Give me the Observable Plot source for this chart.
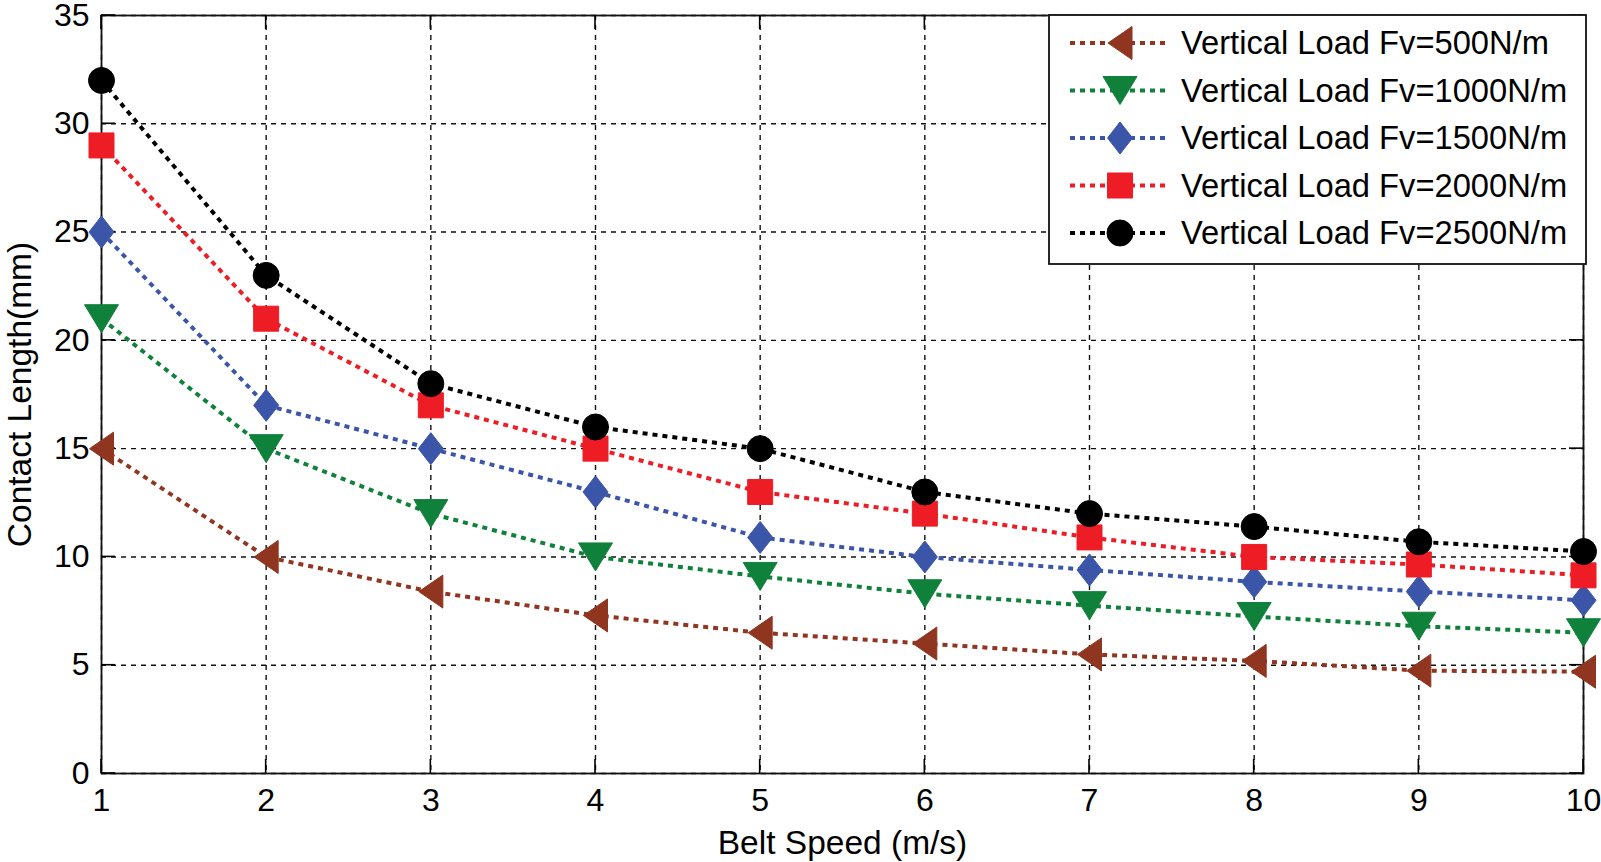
<!DOCTYPE html>
<html>
<head>
<meta charset="utf-8">
<script src="https://cdn.jsdelivr.net/npm/d3@7"></script>
<script src="https://cdn.jsdelivr.net/npm/@observablehq/plot@0.6"></script>
<style>
  html, body { margin: 0; padding: 0; background: #fff; }
  #chart svg { display: block; }
</style>
</head>
<body>
<div id="chart"></div>
<script>
// ---------- data ----------
const beltSpeed = [1, 2, 3, 4, 5, 6, 7, 8, 9, 10];
const seriesNames = [
  "Vertical Load Fv=500N/m",
  "Vertical Load Fv=1000N/m",
  "Vertical Load Fv=1500N/m",
  "Vertical Load Fv=2000N/m",
  "Vertical Load Fv=2500N/m"
];
const load500  = [15, 10, 8.4, 7.3, 6.5, 6.0, 5.5, 5.2, 4.75, 4.7];
const load1000 = [21, 15, 12, 10, 9.1, 8.3, 7.75, 7.25, 6.8, 6.5];
const load1500 = [25, 17, 15, 13, 10.9, 10, 9.4, 8.85, 8.4, 8.0];
const load2000 = [29, 21, 17, 15, 13, 12, 10.9, 10, 9.65, 9.15];
const load2500 = [32, 23, 18, 16, 15, 13, 12, 11.4, 10.7, 10.25];
const seriesValues = [load500, load1000, load1500, load2000, load2500];
const seriesColors = ["#8f3520", "#0f813a", "#3b55a8", "#ee1c25", "#000000"];
const xTicks = [1, 2, 3, 4, 5, 6, 7, 8, 9, 10];
const yTicks = [0, 5, 10, 15, 20, 25, 30, 35];
const xLabel = "Belt Speed (m/s)";
const yLabel = "Contact Length(mm)";

// ---------- marker symbols (MATLAB-like) ----------
function polySymbol(pts) {
  return {
    draw(ctx, size) {
      const k = Math.sqrt(size / Math.PI) / 13;
      ctx.moveTo(pts[0][0] * k, pts[0][1] * k);
      for (let i = 1; i < pts.length; i++) ctx.lineTo(pts[i][0] * k, pts[i][1] * k);
      ctx.closePath();
    }
  };
}
const symTriLeft = polySymbol([[-12, 0], [12, -16.5], [12, 16.5]]);
const symTriDown = polySymbol([[-17, -14], [17, -14], [0, 14]]);
const symDiamond = polySymbol([[0, -16], [12.5, 0], [0, 16], [-12.5, 0]]);
const symSquare  = polySymbol([[-12.5, -12.5], [12.5, -12.5], [12.5, 12.5], [-12.5, 12.5]]);
const symCircle  = {
  draw(ctx, size) {
    const r = Math.sqrt(size / Math.PI);
    ctx.moveTo(r, 0);
    ctx.arc(0, 0, r, 0, 2 * Math.PI);
    ctx.closePath();
  }
};
const seriesSymbols = [symTriLeft, symTriDown, symDiamond, symSquare, symCircle];

// ---------- table ----------
const rows = seriesNames.flatMap((name, s) =>
  beltSpeed.map((v, i) => ({ series: name, s, speed: v, length: seriesValues[s][i] }))
);

const FONT = "'Liberation Sans', Arial, Helvetica, sans-serif";
const FS = 32;
const FS_LABEL = 33.5;
const FS_LEGEND = 32.7;
const MARKER_R = 13;
const LINE_W = 4;
const LINE_DASH = "5,5";

// ---------- inward ticks on all four sides ----------
function tickMarks(index, scales, values, dims) {
  const x = scales.x, y = scales.y;
  const top = dims.marginTop, bottom = dims.height - dims.marginBottom;
  const left = dims.marginLeft, right = dims.width - dims.marginRight;
  const L = 14;
  const g = d3.create("svg:g").attr("stroke", "#000").attr("stroke-width", 1.6).attr("fill", "none");
  for (const t of xTicks) {
    const px = x(t);
    g.append("line").attr("x1", px).attr("x2", px).attr("y1", bottom).attr("y2", bottom - L);
    g.append("line").attr("x1", px).attr("x2", px).attr("y1", top).attr("y2", top + L);
  }
  for (const t of yTicks) {
    const py = y(t);
    g.append("line").attr("y1", py).attr("y2", py).attr("x1", left).attr("x2", left + L);
    g.append("line").attr("y1", py).attr("y2", py).attr("x1", right).attr("x2", right - L);
  }
  return g.node();
}

// ---------- legend (top-right, inside plot) ----------
function legendMark(index, scales, values, dims) {
  const right = dims.width - dims.marginRight + 3;
  const top = dims.marginTop;
  const W = 537, H = 249;
  const left = right - W;
  const g = d3.create("svg:g");
  g.append("rect")
    .attr("x", left).attr("y", top).attr("width", W).attr("height", H)
    .attr("fill", "#fff").attr("stroke", "#111").attr("stroke-width", 1.8);
  seriesNames.forEach((name, s) => {
    const cy = top + 28 + s * 47.5;
    const col = seriesColors[s];
    g.append("line")
      .attr("x1", left + 21).attr("x2", left + 117).attr("y1", cy).attr("y2", cy)
      .attr("stroke", col).attr("stroke-width", LINE_W).attr("stroke-dasharray", LINE_DASH);
    const p = d3.path();
    seriesSymbols[s].draw(p, MARKER_R * MARKER_R * Math.PI);
    g.append("path")
      .attr("d", p.toString())
      .attr("transform", `translate(${left + 71},${cy})`)
      .attr("fill", col).attr("stroke", col).attr("stroke-width", 1);
    g.append("text")
      .attr("x", left + 132).attr("y", cy).attr("dy", "0.35em")
      .attr("text-anchor", "start")
      .attr("font-family", FONT).attr("font-size", FS_LEGEND).attr("fill", "#000")
      .text(name);
  });
  return g.node();
}

const seriesMarks = seriesNames.flatMap((name, s) => {
  const data = rows.filter(d => d.s === s);
  return [
    Plot.line(data, {
      x: "speed", y: "length",
      stroke: seriesColors[s], strokeWidth: LINE_W,
      strokeDasharray: LINE_DASH, strokeLinecap: "butt", strokeLinejoin: "miter"
    }),
    Plot.dot(data, {
      x: "speed", y: "length",
      symbol: seriesSymbols[s], r: MARKER_R,
      fill: seriesColors[s], stroke: seriesColors[s], strokeWidth: 1
    })
  ];
});

const chart = Plot.plot({
  width: 1601,
  height: 862,
  marginLeft: 101,
  marginRight: 18,
  marginTop: 15,
  marginBottom: 89,
  style: { fontFamily: FONT, fontSize: FS + "px", background: "#fff", color: "#000" },
  x: { type: "linear", domain: [1, 10], label: null },
  y: { type: "linear", domain: [0, 35], label: null },
  marks: [
    Plot.gridX(xTicks, { stroke: "#111", strokeOpacity: 1, strokeWidth: 1.4, strokeDasharray: "5,5" }),
    Plot.gridY(yTicks, { stroke: "#111", strokeOpacity: 1, strokeWidth: 1.4, strokeDasharray: "5,5" }),
    Plot.frame({ stroke: "#111", strokeWidth: 1.8 }),
    tickMarks,
    Plot.axisX(xTicks, { tickSize: 0, tickPadding: 15, fontSize: FS, label: null, fill: "#000", tickFormat: d => String(d) }),
    Plot.axisY(yTicks, { tickSize: 0, tickPadding: 12, fontSize: FS, label: null, fill: "#000", tickFormat: d => String(d) }),
    Plot.text([xLabel], { text: d => d, frameAnchor: "bottom", textAnchor: "middle", dy: 70, lineAnchor: "middle", fontSize: FS_LABEL, fill: "#000" }),
    Plot.text([yLabel], { text: d => d, frameAnchor: "left", textAnchor: "middle", dx: -81, rotate: -90, lineAnchor: "middle", fontSize: FS_LABEL, fill: "#000" }),
    ...seriesMarks,
    legendMark
  ]
});

document.getElementById("chart").appendChild(chart);
</script>
</body>
</html>
